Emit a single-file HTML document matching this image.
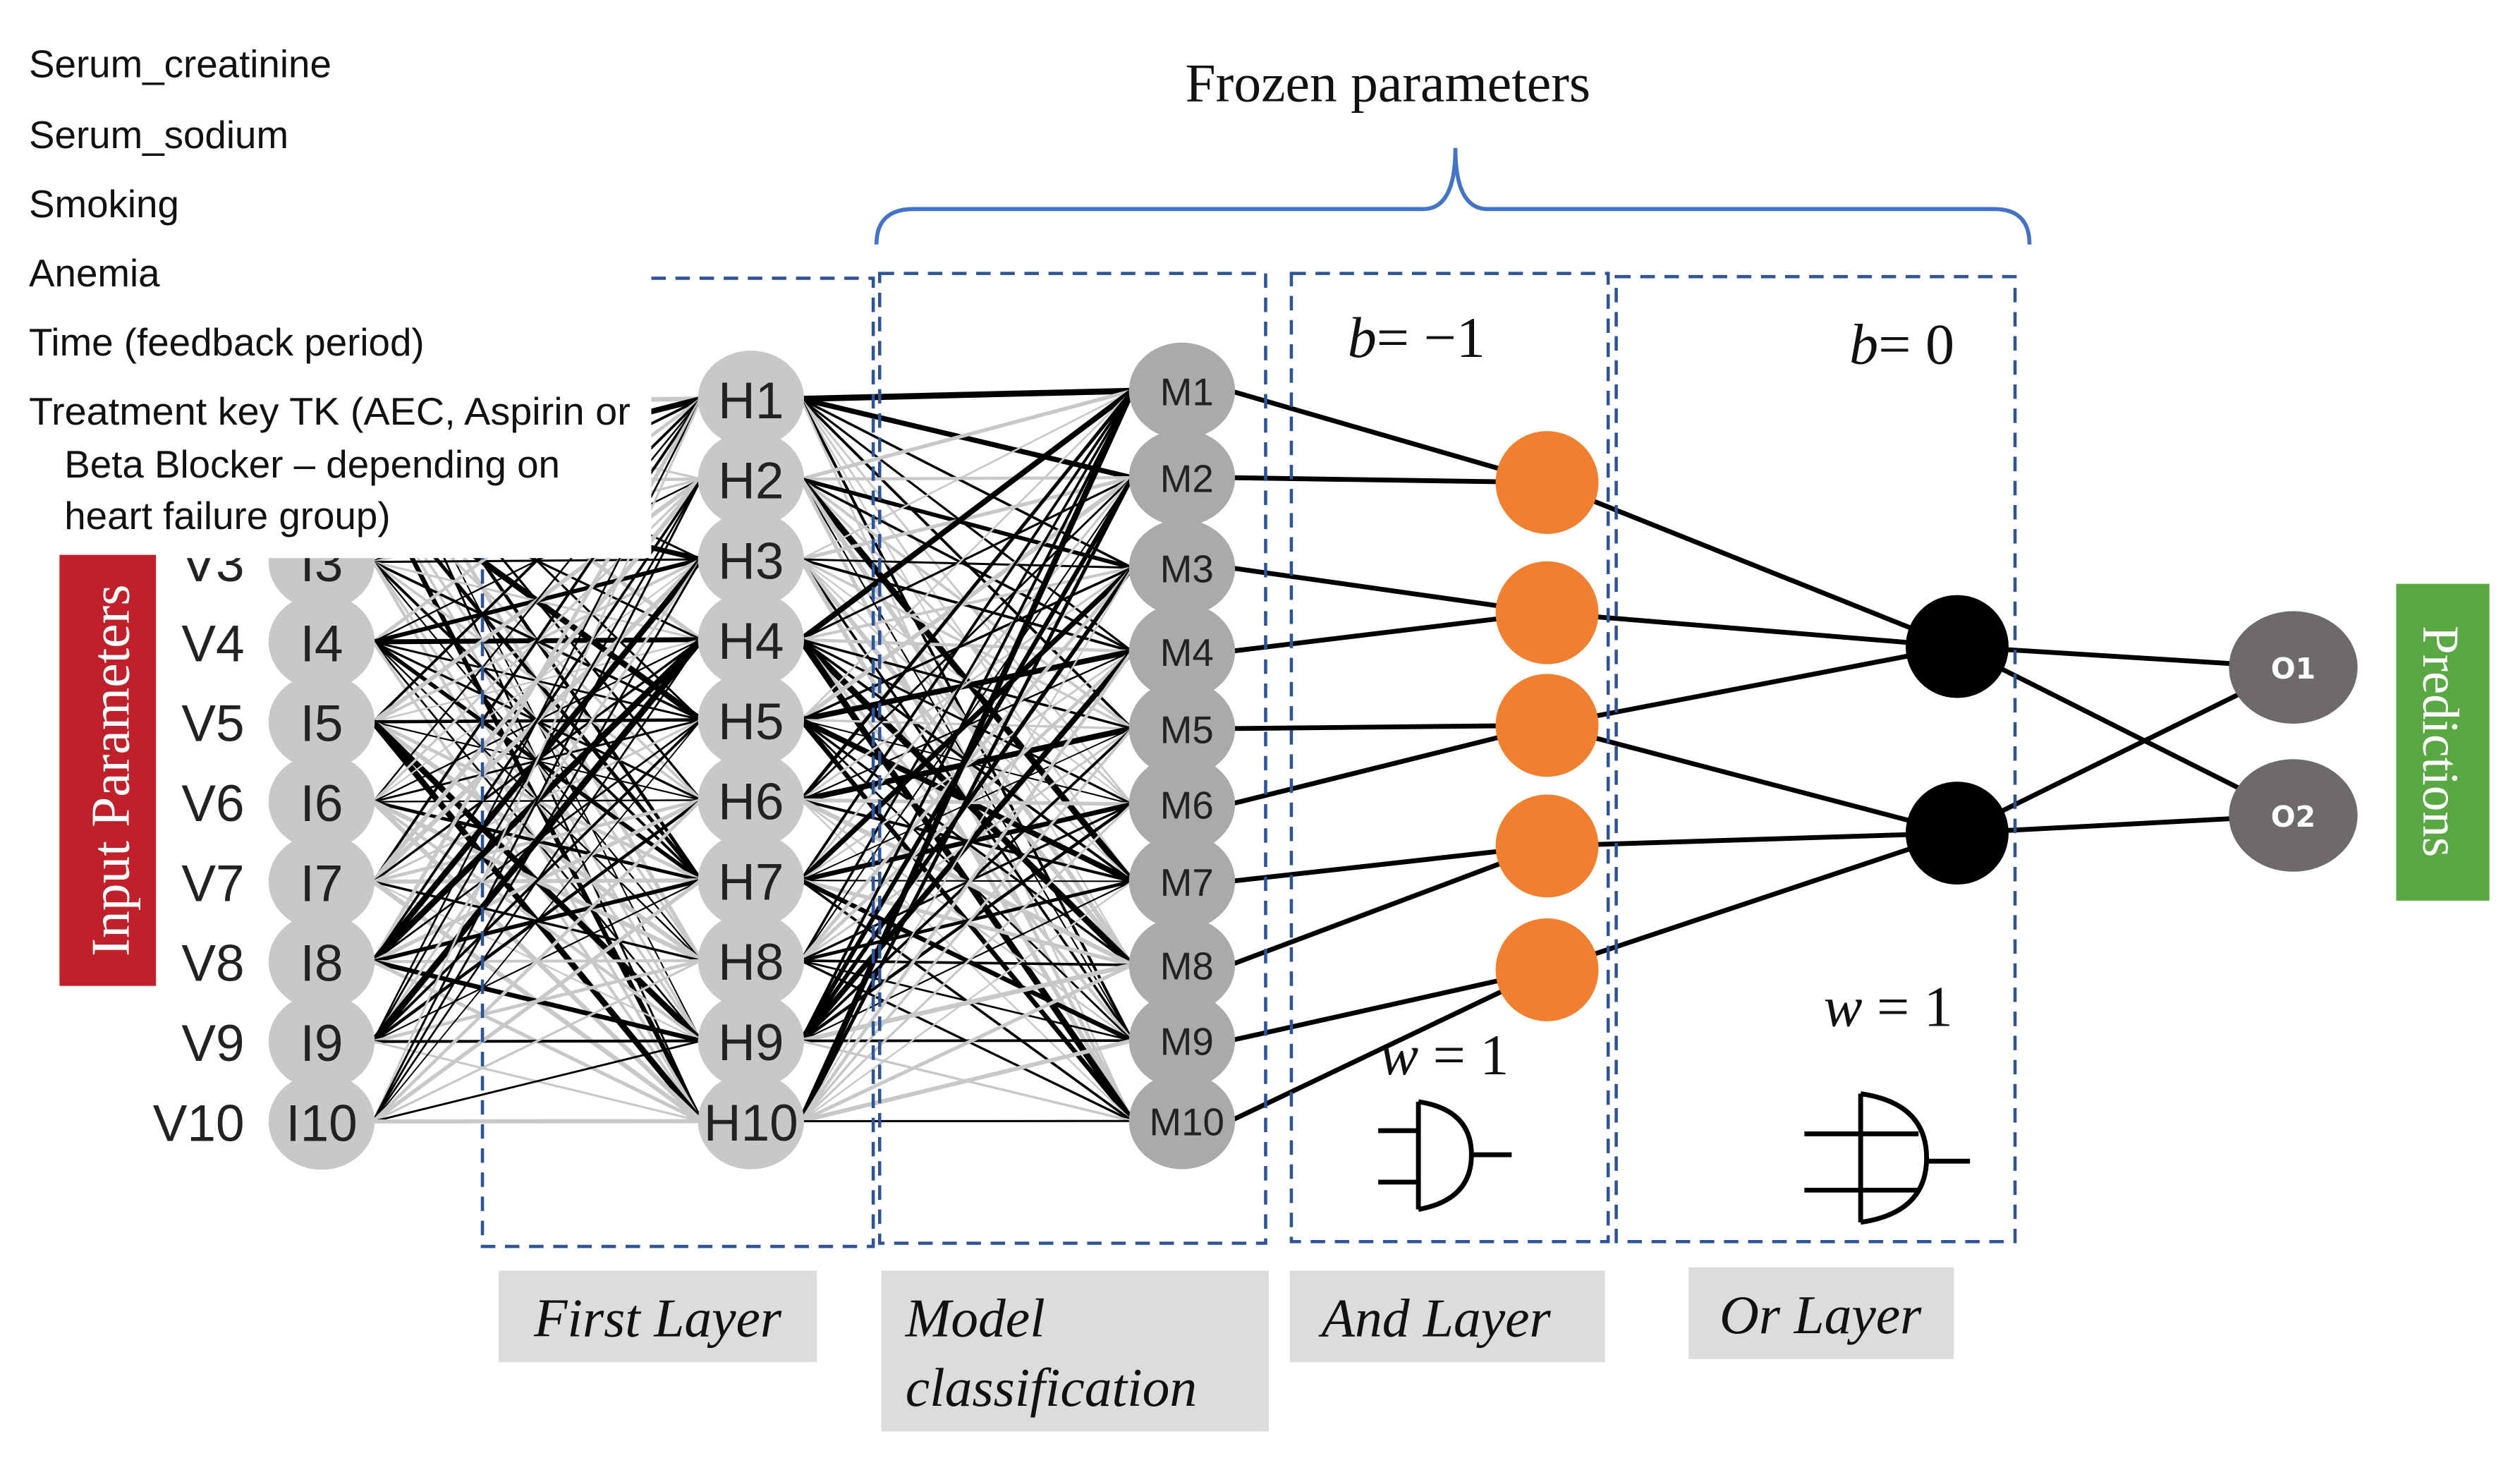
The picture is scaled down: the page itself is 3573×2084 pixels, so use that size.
<!DOCTYPE html>
<html><head><meta charset="utf-8"><style>
html,body{margin:0;padding:0;background:#fff;}
svg{display:block}
</style></head><body>
<svg id="s" xmlns="http://www.w3.org/2000/svg" width="3573" height="2084" viewBox="0 0 1567 914" preserveAspectRatio="none">
<rect width="1567" height="914" fill="#fff"/>
<g id="conn"></g>
<g fill="none" stroke="#2f5496" stroke-width="2" stroke-dasharray="9,6">
<rect x="300" y="173" width="243" height="602"/>
<rect x="547" y="170" width="240" height="603"/>
<rect x="803" y="170" width="197" height="602"/>
<rect x="1005" y="172" width="248" height="600"/>
</g>
<g id="nodes"></g>
<rect x="0" y="0" width="405" height="347" fill="#fff"/>
<g font-family="'Liberation Sans',sans-serif" font-size="24" fill="#111">
<text x="18" y="48">Serum_creatinine</text>
<text x="18" y="92">Serum_sodium</text>
<text x="18" y="135">Smoking</text>
<text x="18" y="178">Anemia</text>
<text x="18" y="221">Time (feedback period)</text>
<text x="18" y="264" textLength="374" lengthAdjust="spacingAndGlyphs">Treatment key TK (AEC, Aspirin or</text>
<text x="40" y="297">Beta Blocker – depending on</text>
<text x="40" y="329">heart failure group)</text>
</g>
<rect x="37" y="345" width="60" height="268" fill="#c0202a"/>
<text transform="translate(80,479) rotate(-90)" text-anchor="middle" font-family="'Liberation Serif',serif" font-size="34" fill="#fff">Input Parameters</text>
<rect x="1490" y="363" width="58" height="197" fill="#5aa843"/>
<text transform="translate(1507,461) rotate(90)" text-anchor="middle" font-family="'Liberation Serif',serif" font-size="32" fill="#fff">Predictions</text>
<path d="M545,152 Q545,130 568,130 L885,130 Q905,130 905,92 Q905,130 925,130 L1240,130 Q1262,130 1262,152" fill="none" stroke="#4472c4" stroke-width="2.5"/>
<text x="863" y="63" text-anchor="middle" font-family="'Liberation Serif',serif" font-size="34" fill="#111">Frozen parameters</text>
<g font-family="'Liberation Serif',serif" font-size="36" fill="#111">
<text x="838" y="222"><tspan font-style="italic">b</tspan>= −1</text>
<text x="1150" y="226"><tspan font-style="italic">b</tspan>= 0</text>
<text x="858" y="668"><tspan font-style="italic">w</tspan> = 1</text>
<text x="1134" y="638"><tspan font-style="italic">w</tspan> = 1</text>
</g>
<g fill="none" stroke="#000" stroke-width="3">
<path d="M882,685 L882,752 M882,685 Q915,690 915,718 Q915,746 882,752"/>
<path d="M857,703 L882,703 M857,735 L882,735 M915,718 L940,718"/>
<path d="M1157,680 L1157,760 M1157,680 Q1198,686 1198,720 Q1198,754 1157,760"/>
<path d="M1122,705 L1193,705 M1122,740 L1193,740 M1198,722 L1225,722"/>
</g>
<g fill="#dcdcdc">
<rect x="310" y="790" width="198" height="57"/>
<rect x="548" y="790" width="241" height="100"/>
<rect x="802" y="790" width="196" height="57"/>
<rect x="1050" y="788" width="165" height="57"/>
</g>
<g font-family="'Liberation Serif',serif" font-style="italic" font-size="34" fill="#111">
<text x="409" y="831" text-anchor="middle">First Layer</text>
<text x="563" y="831">Model</text>
<text x="563" y="874">classification</text>
<text x="893" y="831" text-anchor="middle">And Layer</text>
<text x="1132" y="829" text-anchor="middle">Or Layer</text>
</g>
<script>
(function(){
var NS="http://www.w3.org/2000/svg";
var conn=document.getElementById('conn'),nodes=document.getElementById('nodes');
function el(p,t,a){var e=document.createElementNS(NS,t);for(var k in a)e.setAttribute(k,a[k]);p.appendChild(e);return e;}
var seed=7;function r(){seed=(seed*16807)%2147483647;return (seed-1)/2147483646;}
var Iy=[],Hy=[],My=[243,297,353,405,453,500,548,600,647,697];
for(var i=0;i<10;i++){Iy.push(250+i*49.7);Hy.push(248+i*49.9);}
function dense(x1,ys1,x2,ys2){
 for(var a=0;a<10;a++)for(var b=0;b<10;b++){
  var v=r();var col,w;
  if(v<0.5){col='#c8c8c8';w=1+r()*2;}else if(v<0.8){col='#000';w=0.8+r()*1;}else{col='#000';w=1.5+r()*2.5;}
  el(conn,'line',{x1:x1,y1:ys1[a],x2:x2,y2:ys2[b],stroke:col,'stroke-width':w});
 }}
dense(232,Iy,436,Hy);
dense(498,Hy,704,My);
var O=[[962,300],[962,381],[962,451],[962,526],[962,603]];
var mo=[0,0,1,1,2,2,3,3,4,4];
for(var i=0;i<10;i++)el(conn,'line',{x1:765,y1:My[i],x2:O[mo[i]][0],y2:O[mo[i]][1],stroke:'#000','stroke-width':3});
var B=[[1217,402],[1217,518]];
var ob=[[0,0],[1,0],[2,0],[2,1],[3,1],[4,1]];
ob.forEach(function(p){el(conn,'line',{x1:O[p[0]][0],y1:O[p[0]][1],x2:B[p[1]][0],y2:B[p[1]][1],stroke:'#000','stroke-width':3});});
var P=[[1426,415],[1426,507]];
for(var a=0;a<2;a++)for(var b=0;b<2;b++)el(conn,'line',{x1:B[a][0],y1:B[a][1],x2:P[b][0],y2:P[b][1],stroke:'#000','stroke-width':3});
var F="'Liberation Sans',sans-serif";
for(var i=0;i<10;i++){el(nodes,'ellipse',{cx:200,cy:Iy[i],rx:33,ry:30,fill:'#c8c8c8'});}
for(var i=0;i<10;i++){el(nodes,'ellipse',{cx:467,cy:Hy[i],rx:33,ry:30,fill:'#c8c8c8'});}
for(var i=0;i<10;i++){el(nodes,'ellipse',{cx:735,cy:My[i],rx:33,ry:30,fill:'#aaaaaa'});}
for(var i=0;i<10;i++){
 var t=el(nodes,'text',{x:200,y:Iy[i]+12,'text-anchor':'middle','font-family':F,'font-size':32,fill:'#222'});t.textContent='I'+(i+1);
 t=el(nodes,'text',{x:152,y:Iy[i]+12,'text-anchor':'end','font-family':F,'font-size':32,fill:'#222'});t.textContent='V'+(i+1);
 t=el(nodes,'text',{x:467,y:Hy[i]+12,'text-anchor':'middle','font-family':F,'font-size':32,fill:'#222'});t.textContent='H'+(i+1);
 t=el(nodes,'text',{x:738,y:My[i]+9,'text-anchor':'middle','font-family':F,'font-size':24,fill:'#222'});t.textContent='M'+(i+1);
}
O.forEach(function(p){el(nodes,'circle',{cx:p[0],cy:p[1],r:32,fill:'#f08030'});});
B.forEach(function(p){el(nodes,'circle',{cx:p[0],cy:p[1],r:32,fill:'#000'});});
P.forEach(function(p,i){el(nodes,'ellipse',{cx:p[0],cy:p[1],rx:40,ry:35,fill:'#6e6a6a'});var t=el(nodes,'text',{x:p[0],y:p[1]+7,'text-anchor':'middle','font-family':"'DejaVu Sans',sans-serif",'font-size':18,'font-weight':'bold',fill:'#fff'});t.textContent='O'+(i+1);});
})();
</script>
</svg>
</body></html>
